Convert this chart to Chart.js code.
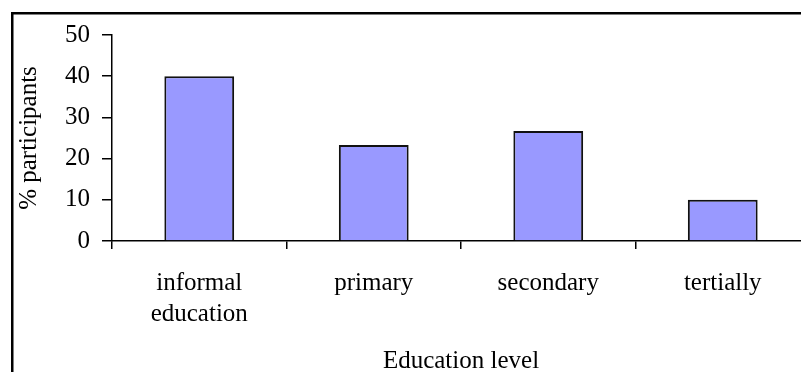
<!DOCTYPE html>
<html lang="en">
<head>
    <meta charset="UTF-8">
    <title>Education level</title>
    <style>
      body { margin: 0; overflow: hidden; background: #fff; }
    </style>
</head>
<body>
    <canvas id="grafico1" width="812" height="372"></canvas>
    <script src="https://cdn.jsdelivr.net/npm/chart.js"></script>
    <script>
      const categorias = [['informal', 'education'], 'primary', 'secondary', 'tertially'];
      const participantes = [40, 23.3, 26.7, 10];
      const ticksY = [0, 10, 20, 30, 40, 50];

      const fonte = 'Liberation Serif';

      // moldura: só topo e esquerda aparecem na imagem
      const moldura = {
        id: 'moldura',
        afterDraw(chart) {
          const c = chart.ctx;
          c.save();
          c.strokeStyle = '#000';
          c.lineWidth = 2.5;
          c.strokeRect(12.25, 13.25, 1000, 1000);
          c.restore();
        }
      };

      const ctx = document.getElementById('grafico1');

      new Chart(ctx, {
        type: 'bar',
        data: {
          labels: categorias,
          datasets: [{
            label: '% participants',
            data: participantes,
            backgroundColor: '#9999FF',
            borderColor: '#111',
            borderWidth: 2,
            barPercentage: 0.4,
            categoryPercentage: 1
          }]
        },
        options: {
          responsive: false,
          animation: false,
          layout: { padding: { top: 35, right: 2, left: 0, bottom: 0 } },
          plugins: {
            legend: { display: false },
            tooltip: { enabled: false }
          },
          scales: {
            x: {
              afterFit: s => { s.height = 131; },
              grid: { drawOnChartArea: false, offset: true, tickLength: 8, color: '#000', lineWidth: 1.5 },
              border: { color: '#000', width: 1.5 },
              ticks: {
                color: '#000',
                padding: 19,
                maxRotation: 0,
                font: { family: fonte, size: 25, lineHeight: 1.24 }
              },
              title: {
                display: true,
                text: 'Education level',
                color: '#000',
                padding: 0,
                font: { family: fonte, size: 25, lineHeight: 0.84 }
              }
            },
            y: {
              min: 0,
              max: 50,
              afterFit: s => { s.width = 112; },
              afterBuildTicks: s => { s.ticks = ticksY.map(v => ({ value: v })); },
              grid: { drawOnChartArea: false, tickLength: 10, color: '#000', lineWidth: 1.5 },
              border: { color: '#000', width: 1.5 },
              ticks: {
                color: '#000',
                padding: 12,
                font: { family: fonte, size: 25 }
              },
              title: {
                display: true,
                text: '% participants',
                color: '#000',
                padding: { top: 14, bottom: 0 },
                font: { family: fonte, size: 25 }
              }
            }
          }
        },
        plugins: [moldura]
      });
    </script>
</body>
</html>
